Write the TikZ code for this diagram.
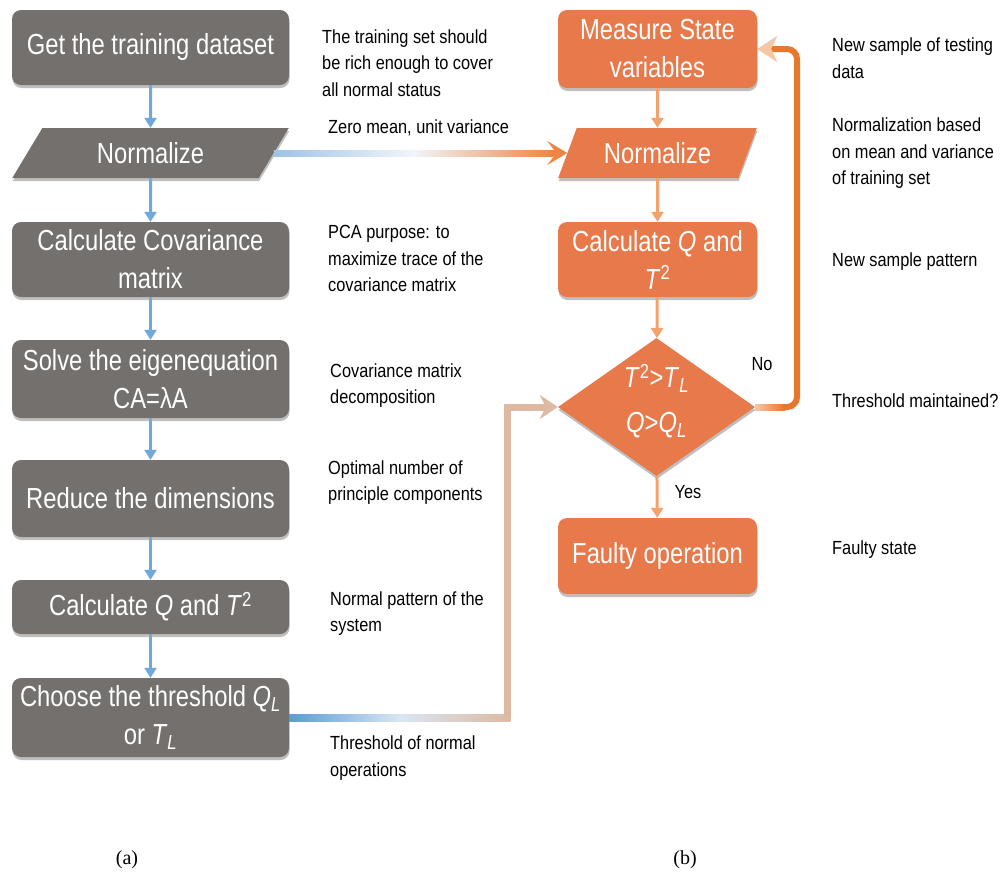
\documentclass[tikz,border=0pt]{standalone}
\usepackage{fontspec}
\setmainfont{Liberation Sans}[FakeStretch=0.82]
\newfontfamily\notefont{Liberation Sans}[FakeStretch=0.86]
\newfontfamily\capfont{Liberation Serif}
\usetikzlibrary{shapes.geometric, arrows.meta, shadows, calc}

\definecolor{boxgray}{HTML}{73706E}
\definecolor{boxorange}{HTML}{E8794A}
\definecolor{flowblue}{HTML}{6FA8DC}
\definecolor{flowpeach}{HTML}{F3A26C}
\definecolor{zlblue}{HTML}{9DC3E6}
\definecolor{zwhite}{HTML}{F2F5FA}
\definecolor{zorange}{HTML}{EE8544}
\definecolor{tblue}{HTML}{5B9BD5}
\definecolor{tlight}{HTML}{D9E6F3}
\definecolor{ttan}{HTML}{DDB9A3}
\definecolor{looporange}{HTML}{E8772E}
\definecolor{looppeach}{HTML}{F7C6A5}

\tikzset{
  flowbox/.style={rectangle, rounded corners=9pt, fill=boxgray, text=white,
    align=center, inner sep=0pt, font=\fontsize{29}{38}\selectfont,
    drop shadow={shadow xshift=0.5pt, shadow yshift=-3pt, opacity=0.25, fill=black}},
  leftbox/.style={flowbox, minimum width=277pt},
  rightbox/.style={flowbox, fill=boxorange, minimum width=199pt},
  leftpara/.style={leftbox, trapezium, rounded corners=0pt, trapezium stretches=true,
    trapezium left angle=55, trapezium right angle=125, minimum height=50pt},
  rightpara/.style={rightbox, trapezium, rounded corners=0pt, trapezium stretches=true,
    trapezium left angle=60, trapezium right angle=120, minimum height=50pt},
  decision/.style={diamond, fill=boxorange, inner sep=0pt,
    minimum width=197pt, minimum height=138pt,
    drop shadow={shadow xshift=0.5pt, shadow yshift=-3pt, opacity=0.25, fill=black}},
  decisiontext/.style={text=white, align=center, inner sep=0pt,
    font=\fontsize{29}{45}\selectfont},
  note/.style={anchor=west, align=left, inner sep=0pt, text=black,
    font=\notefont\fontsize{19}{26.5}\selectfont},
  bluearrow/.style={draw=flowblue, line width=3pt, -{Triangle[length=10pt,width=12pt]}},
  peacharrow/.style={draw=flowpeach, line width=3pt, -{Triangle[length=10pt,width=12pt]}},
  caption/.style={font=\capfont\fontsize{20}{24}\selectfont, inner sep=0pt}
}

\begin{document}
\begin{tikzpicture}[x=1pt, y=-1pt]
  \fill[white] (0,0) rectangle (1008,878);
  \useasboundingbox (0,0) rectangle (1008,878);

  % (a) training procedure
  \node[leftbox, minimum height=75pt] (b1) at (150.5,47.5) {Get the training dataset};
  \node[leftpara] (nl) at (150.5,153) {Normalize};
  \node[leftbox, minimum height=75pt] (b3) at (150.5,259.5) {Calculate Covariance\\matrix};
  \node[leftbox, minimum height=78pt] (b4) at (150.5,379) {Solve the eigenequation\\CA=λA};
  \node[leftbox, minimum height=77pt] (b5) at (150.5,498.5) {Reduce the dimensions};
  \node[leftbox, minimum height=54pt] (b6) at (150.5,607) {Calculate \textit{Q} and \textit{T}\textsuperscript{2}};
  \node[leftbox, minimum height=79pt] (b7) at (150.5,717.5) {Choose the threshold \textit{Q}\textsubscript{\textit{L}}\\or \textit{T}\textsubscript{\textit{L}}};

  \draw[bluearrow] (b1) -- (nl);
  \draw[bluearrow] (nl) -- (b3);
  \draw[bluearrow] (b3) -- (b4);
  \draw[bluearrow] (b4) -- (b5);
  \draw[bluearrow] (b5) -- (b6);
  \draw[bluearrow] (b6) -- (b7);

  % (b) monitoring procedure
  \node[rightbox, minimum height=78pt] (ms) at (657.5,49) {Measure State\\variables};
  \node[rightpara] (nr) at (657.5,153) {Normalize};
  \node[rightbox, minimum height=75pt] (cq) at (657.5,259.5) {Calculate \textit{Q} and\\\textit{T}\textsuperscript{2}};
  \node[decision] (dia) at (656.5,407) {};
  \node[decisiontext] (dt) at ($(dia.center)+(0,-6)$) {\textit{T}\textsuperscript{2}>\textit{T}\textsubscript{\textit{L}}\\\textit{Q}>\textit{Q}\textsubscript{\textit{L}}};
  \node[rightbox, minimum height=76pt] (fo) at (657.5,556) {Faulty operation};

  \draw[peacharrow] (ms) -- (nr);
  \draw[peacharrow] (nr) -- (cq);
  \draw[peacharrow] (cq) -- (dia);
  \draw[peacharrow] (dia) -- (fo);
  \node[note, anchor=center] (yes) at (688,492) {Yes};

  % training statistics handed to the monitoring side
  \shade[left color=zlblue, right color=zorange, middle color=zwhite]
    ($(nl.east)+(0,-3)$) rectangle ($(nr.west)+(-14,3)$);
  \draw[zorange, line width=6pt, -{Stealth[length=20pt,width=24pt,inset=9pt]}]
    ($(nr.west)+(-16,0)$) -- (nr.west);

  % thresholds handed to the decision
  \coordinate (tb) at (507,0);
  \shade[left color=tblue, right color=ttan, middle color=tlight]
    ($(b7.east)+(0,-3.5)$) rectangle ($(b7.east -| tb)+(3.5,3.5)$);
  \draw[ttan, line width=7pt, -{Stealth[length=18pt,width=24pt,inset=6pt]}]
    (b7.east -| tb) -- (dia.west -| tb) -- (dia.west);

  % "No" loop back to the next sample
  \coordinate (lp) at (797,0);
  \shade[left color=looppeach, right color=looporange]
    ($(dia.east)+(0,-3)$) rectangle ($(dia.east -| lp)+(-12,3)$);
  \draw[looporange, line width=6pt, rounded corners=10pt,
        -{Stealth[length=20pt,width=26pt,inset=6pt,color=looppeach]}]
    ($(dia.east -| lp)+(-14,0)$) -- (dia.east -| lp) -- (ms.east -| lp) -- (ms.east);
  \node[note, anchor=center] (no) at (762,364) {No};

  % notes
  \node[note] (t1) at (322,63) {The training set should\\be rich enough to cover\\all normal status};
  \node[note] (t2) at (328,128) {Zero mean, unit variance};
  \node[note] (t3) at (328,258.5) {PCA purpose: to\\maximize trace of the\\covariance matrix};
  \node[note] (t4) at (330,385.5) {Covariance matrix\\decomposition};
  \node[note] (t5) at (328,482.5) {Optimal number of\\principle components};
  \node[note] (t6) at (330,613.5) {Normal pattern of the\\system};
  \node[note] (t7) at (330,758) {Threshold of normal\\operations};
  \node[note] (r1) at (832,58) {New sample of testing\\data};
  \node[note] (r2) at (832,153.5) {Normalization based\\on mean and variance\\of training set};
  \node[note] (r3) at (832,262) {New sample pattern};
  \node[note] (r4) at (832,401) {Threshold maintained?};
  \node[note] (r5) at (832,550) {Faulty state};

  \node[caption] (ca) at (127,860) {(a)};
  \node[caption] (cb) at (685,860) {(b)};
\end{tikzpicture}
\end{document}
